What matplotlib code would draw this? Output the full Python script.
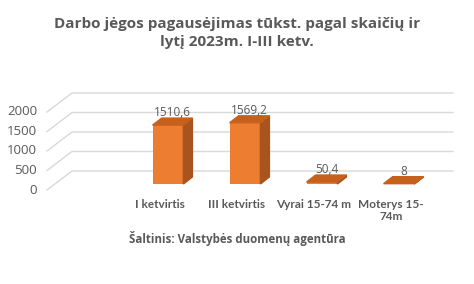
import matplotlib.pyplot as plt
from matplotlib.patches import Polygon

categories = ['I ketvirtis', 'III ketvirtis', 'Vyrai 15-74 m', 'Moterys 15-\n74m']
values = [1510.6, 1569.2, 50.4, 8]
value_labels = ['1510,6', '1569,2', '50,4', '8']
yticks = [0, 500, 1000, 1500, 2000]

W, H = 474, 284
PX_STEP = 77.0      # px between categories
PX_UNIT = 0.039     # px per value unit
X0, Y0 = 168, 100   # px of first bar front centre / bar floor (from bottom)

fig = plt.figure(figsize=(W / 100, H / 100), dpi=100)
ax = fig.add_axes([0, 0, 1, 1])
ax.set_xlim((0 - X0) / PX_STEP, (W - X0) / PX_STEP)
ax.set_ylim((0 - Y0) / PX_UNIT, (H - Y0) / PX_UNIT)
ax.axis('off')


def dx(px):
    return px / PX_STEP


def dy(px):
    return px / PX_UNIT


grey = '#595959'
grid_c = '#D9D9D9'

# floor / wall grid (front plane is 8px left, 6px down of bar plane; back wall 17px right, 13px up)
for t in yticks:
    fx, fy = dx(47 - X0), t - dy(6)
    bx, by = dx(72 - X0), t + dy(13)
    ax.plot([fx, bx, dx(453 - X0)], [fy, by, by], color=grid_c, lw=1, zorder=0)
    ax.text(dx(37 - X0), fy, str(t), ha='right', va='center', fontsize=9.5,
            color=grey, family='Open Sans')

# 3d-ish bars
w = 0.4
ddx, ddy = dx(9), dy(7)
for i, v in enumerate(values):
    l, r = i - w / 2, i + w / 2
    ax.bar(i, v, width=w, color='#ED7D31', zorder=3)
    ax.add_patch(Polygon([(r, 0), (r + ddx, ddy), (r + ddx, v + ddy), (r, v)],
                         closed=True, color='#A9541C', zorder=3))
    ax.add_patch(Polygon([(l, v), (l + ddx, v + ddy), (r + ddx, v + ddy), (r, v)],
                         closed=True, color='#C5611D', zorder=3))
    ax.text(i + ddx / 2, v + ddy - dy(1), value_labels[i], ha='center', va='bottom',
            fontsize=8.5, color=grey, family='Open Sans', zorder=4)

for i, c in enumerate(categories):
    ax.text(i - dx(8), dy(85 - Y0), c, ha='center', va='top', fontsize=8.5,
            color=grey, family='Lato', fontweight='bold', linespacing=1.1)

fig.text(0.5, 1 - 239 / H, 'Šaltinis: Valstybės duomenų agentūra', ha='center',
         va='center', fontsize=8.3, color=grey, family='Open Sans', fontweight='bold')
fig.text(0.5, 1 - 33 / H, 'Darbo jėgos pagausėjimas tūkst. pagal skaičių ir\nlytį 2023m. I-III ketv.',
         ha='center', va='center', fontsize=11, color=grey, family='Open Sans',
         fontweight='bold', linespacing=1.3)

fig.savefig('out.png', dpi=100)
